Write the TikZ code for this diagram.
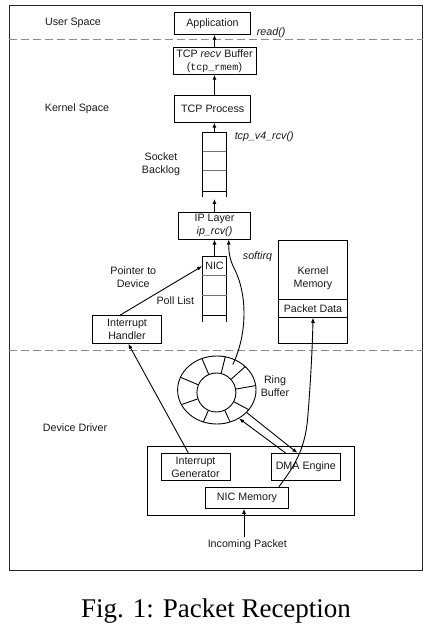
\documentclass[tikz,border=0pt]{standalone}
\usepackage{fontspec}
\setmainfont{Liberation Sans}
\setmonofont{Liberation Mono}
\newfontfamily\capfont{Liberation Serif}
\usetikzlibrary{arrows.meta,shapes.geometric,calc}
\newcommand\diagfont{\fontsize{10.7}{13}\selectfont}
\begin{document}
\begin{tikzpicture}[x=1pt,y=-1pt,
  every node/.style={text=black!90},
  lbl/.style={font=\diagfont,align=center,inner sep=2pt},
  box/.style={draw,line width=0.9pt,font=\diagfont,align=center,inner sep=0pt},
  qline/.style={line width=0.9pt},
  qgray/.style={line width=0.9pt,draw=black!55},
  sep/.style={draw=black!45,line width=1pt,dash pattern=on 8pt off 4pt},
  arr/.style={line width=0.9pt,-{Latex[length=5pt,width=4pt]}}]
\useasboundingbox (0,0) rectangle (427,631);
% frame and separators
\draw[line width=0.9pt,black!85] (9.3,5) rectangle (422.7,570.3);
\draw[sep] (9.3,40) -- (422.7,40);
\draw[sep] (9.3,350) -- (422.7,350);
% region labels
\node[lbl] (us) at (73,22.7) {User Space};
\node[lbl] (ks) at (77,108.3) {Kernel Space};
\node[lbl] (dd) at (75,427.3) {Device Driver};
% upper stack
\node[box,minimum width=76pt,minimum height=22pt] (app) at (212.5,23.3) {Application};
\node[box,minimum width=83pt,minimum height=26.6pt] (buf) at (214.5,61) {TCP \textit{recv} Buffer\\({\fontsize{10}{13}\selectfont\ttfamily tcp\_rmem})};
\node[box,minimum width=76pt,minimum height=27pt] (tcpp) at (212.7,108.7) {TCP Process};
\node[lbl] (readl) at (271.2,32.3) {\textit{read()}};
\node[lbl] (tcprcv) at (264.2,136.7) {\textit{tcp\_v4\_rcv()}};
% socket backlog queue
\node[minimum width=23.8pt,minimum height=64.4pt,inner sep=0pt] (backlog) at (214.4,164.5) {};
\draw[qline] (backlog.south west) -- (backlog.north west) -- (backlog.north east) -- (backlog.south east);
\draw[qgray] (202.5,151.7) -- (226.3,151.7);
\draw[qgray] (202.5,170.7) -- (226.3,170.7);
\draw[qline] (202.5,191) -- (226.3,191);
\node[lbl] (sbl) at (161,164) {Socket\\Backlog};
% IP layer
\node[box,minimum width=72.3pt,minimum height=26.7pt] (ip) at (214.5,225.7) {IP Layer\\\textit{ip\_rcv()}};
% poll list queue
\node[minimum width=24.4pt,minimum height=65pt,inner sep=0pt] (pollq) at (214.5,289.2) {};
\draw[qline] (pollq.south west) -- (pollq.north west) -- (pollq.north east) -- (pollq.south east);
\node[font=\diagfont,inner sep=0pt,minimum width=24.4pt,minimum height=19pt] (nic) at (214.5,266.2) {NIC};
\draw[qgray] (202.3,275.7) -- (226.7,275.7);
\draw[qgray] (202.3,295) -- (226.7,295);
\draw[qline] (202.3,315) -- (226.7,315);
\node[lbl] (poll) at (175.3,301) {Poll List};
\node[lbl] (ptr) at (133.3,277) {Pointer to\\Device};
\node[lbl] (sirq) at (257.5,256.7) {\textit{softirq}};
% kernel memory
\node[draw,line width=0.9pt,minimum width=69.4pt,minimum height=103.3pt,inner sep=0pt] (km) at (313,291.7) {};
\node[lbl] (kmt) at (313,277.8) {Kernel\\Memory};
\node[box,minimum width=69.4pt,minimum height=18pt] (pd) at (313,308.3) {Packet Data};
% interrupt handler
\node[box,minimum width=69.3pt,minimum height=27.7pt] (ih) at (127,329.5) {Interrupt\\Handler};
% ring buffer
\node[draw,ellipse,line width=0.9pt,minimum width=78.4pt,minimum height=68pt,inner sep=0pt] (ring) at (216.8,390) {};
\node[draw,circle,line width=0.9pt,minimum size=39pt,inner sep=0pt] (ringin) at (216.4,392.5) {};
\begin{scope}
  \clip (216.8,390) ellipse [x radius=39.2pt, y radius=34pt];
  \foreach \a in {113,76,42,10,-28,-65,-114,-161,157}
    \draw[line width=0.9pt] (ringin.\a) -- ++(\a:30pt);
\end{scope}
\node[lbl] (rbl) at (275,386.3) {Ring\\Buffer};
% NIC hardware
\node[draw,line width=0.9pt,minimum width=206.3pt,minimum height=68.6pt,inner sep=0pt] (nicbox) at (250.9,481) {};
\node[box,minimum width=69pt,minimum height=27.3pt] (ig) at (195.5,467) {Interrupt\\Generator};
\node[box,minimum width=69pt,minimum height=27.3pt] (dma) at (305.8,467) {DMA Engine};
\node[box,minimum width=82.7pt,minimum height=21pt] (nicm) at (247,497.8) {NIC Memory};
\node[lbl,inner sep=3.3pt] (inc) at (247.3,545) {Incoming Packet};
% connectors
\draw[arr] (buf.north) -- (buf.north |- app.south);
\draw[arr] (buf.south |- tcpp.north) -- (buf.south);
\draw[arr] (backlog.north) -- (backlog.north |- tcpp.south);
\draw[arr,shorten >=2pt] (ip.north) -- (backlog.south);
\draw[arr] (nic.north) -- (nic.north |- ip.south);
\draw[arr] ([xshift=-7pt]ih.north) -- (nic.west);
\coordinate (sstart) at (232.8,364.5);
\draw[arr] (sstart) .. controls (247,335) and (248,295) .. (234,268) .. controls (229,258) and (228.7,250) .. ([xshift=14.2pt]ip.south);
\draw[arr] ([xshift=-7.2pt]ig.north) -- ([xshift=1.3pt]ih.south);
\draw[arr] (ring.-37.6) -- ([xshift=-8.5pt]dma.north);
\draw[arr] ([xshift=-20.3pt]dma.north) -- (ring.-52);
\draw[arr] ([xshift=-10pt]nicm.north east) .. controls (298,462) and (305,445) .. (307.5,420) .. controls (310.5,385) and (312.5,345) .. (pd.south);
\draw[arr] ([xshift=-3.3pt]inc.north) -- ([xshift=-3.3pt]inc.north |- nicm.south);
% caption
\node[font=\capfont\fontsize{27}{30}\selectfont,text=black] (cap) at (216,611) {Fig. 1: Packet Reception};
\end{tikzpicture}
\end{document}
